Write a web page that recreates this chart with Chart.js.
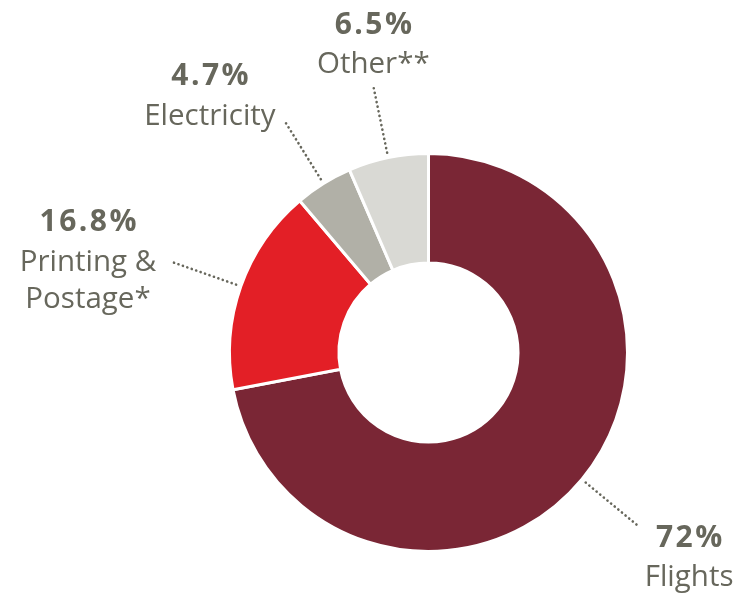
<!DOCTYPE html>
<html>
<head>
<meta charset="utf-8">
<script src="https://cdn.jsdelivr.net/npm/chart.js@4/dist/chart.umd.min.js"></script>
<style>
  html, body { margin: 0; padding: 0; background: #ffffff; }
  #wrap { width: 734px; height: 598px; position: relative; }
</style>
</head>
<body>
<div id="wrap"><canvas id="c" width="734" height="598"></canvas></div>
<script>
const categories = [["Flights"], ["Printing &", "Postage*"], ["Electricity"], ["Other**"]];
const shares = [72, 16.8, 4.7, 6.5];
const sliceColors = ["#7a2635", "#e31f26", "#b1b0a7", "#d9d9d4"];

// label placement relative to the end of each leader line (style only)
const labelStyle = [
  { dx: 51, pctDy: 21, lineDy: 60, lineGap: 37 },
  { dx: -84, pctDy: -31, lineDy: 9, lineGap: 37 },
  { dx: -75, pctDy: -36, lineDy: 4, lineGap: 37 },
  { dx: 0, pctDy: -52, lineDy: -13, lineGap: 37 }
];
const textColor = "#67675c";

const leaderLabels = {
  id: "leaderLabels",
  afterDatasetsDraw(chart) {
    const ctx = chart.ctx;
    const meta = chart.getDatasetMeta(0);
    ctx.save();
    meta.data.forEach((arc, i) => {
      const p = arc.getProps(["x", "y", "startAngle", "endAngle", "outerRadius"], true);
      const mid = (p.startAngle + p.endAngle) / 2;
      const r0 = p.outerRadius + 5, r1 = p.outerRadius + 73;
      const x0 = p.x + Math.cos(mid) * r0, y0 = p.y + Math.sin(mid) * r0;
      const x1 = p.x + Math.cos(mid) * r1, y1 = p.y + Math.sin(mid) * r1;
      ctx.beginPath();
      ctx.setLineDash([0.1, 4.6]);
      ctx.lineCap = "round";
      ctx.lineWidth = 2.6;
      ctx.strokeStyle = textColor;
      ctx.moveTo(x0, y0);
      ctx.lineTo(x1, y1);
      ctx.stroke();
      ctx.setLineDash([]);
      const s = labelStyle[i];
      ctx.fillStyle = textColor;
      ctx.textAlign = "center";
      ctx.textBaseline = "alphabetic";
      ctx.font = "bold 30px 'Open Sans'";
      ctx.letterSpacing = "2.5px";
      ctx.fillText(shares[i] + "%", x1 + s.dx + 1.25, y1 + s.pctDy);
      ctx.letterSpacing = "0px";
      ctx.font = "29.5px 'Open Sans'";
      categories[i].forEach((t, k) => {
        ctx.fillText(t, x1 + s.dx, y1 + s.lineDy + k * s.lineGap);
      });
    });
    ctx.restore();
  }
};

new Chart(document.getElementById("c"), {
  type: "doughnut",
  data: {
    labels: categories.map(l => l.join(" ")),
    datasets: [{
      data: shares,
      backgroundColor: sliceColors,
      borderColor: "#ffffff",
      borderWidth: 3
    }]
  },
  options: {
    responsive: false,
    animation: false,
    cutout: "45%",
    layout: { padding: { left: 228, right: 105, top: 152, bottom: 45 } },
    plugins: { legend: { display: false }, tooltip: { enabled: false } }
  },
  plugins: [leaderLabels]
});
</script>
</body>
</html>
